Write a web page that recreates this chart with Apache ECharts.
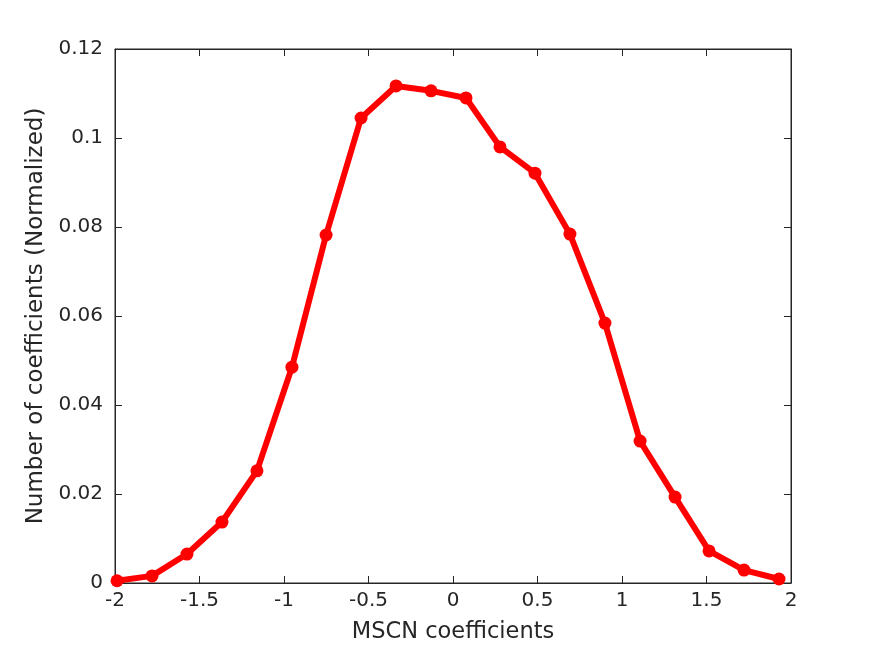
<!DOCTYPE html>
<html><head><meta charset="utf-8">
<script src="https://cdn.jsdelivr.net/npm/echarts@6/dist/echarts.min.js"></script>
<style>html,body{margin:0;padding:0;background:#fff}#c{width:875px;height:656px}</style>
</head><body><div id="c"></div>
<script>
const xValues = [-1.988, -1.781, -1.574, -1.367, -1.160, -0.953, -0.751, -0.544, -0.337, -0.130, 0.077, 0.278, 0.485, 0.692, 0.899, 1.107, 1.314, 1.515, 1.722, 1.929];
const yValues = [0.0005, 0.0016, 0.0065, 0.0137, 0.0252, 0.0485, 0.0782, 0.1045, 0.1117, 0.1106, 0.1090, 0.0980, 0.0921, 0.0784, 0.0584, 0.0319, 0.0193, 0.0072, 0.0029, 0.0009];
const xTitle = 'MSCN coefficients';
const yTitle = 'Number of coefficients (Normalized)';

const chart = echarts.init(document.getElementById('c'));
const font = 'DejaVu Sans';
const ax = '#262626';
const lineStyle = {color: ax, width: 1};
chart.setOption({
  animation: false,
  backgroundColor: '#fff',
  grid: {left: 115, right: 84, top: 49, bottom: 73, show: true, borderColor: ax, borderWidth: 1},
  xAxis: [{
    type: 'value', min: -2, max: 2, interval: 0.5,
    name: xTitle, nameLocation: 'middle', nameGap: 38,
    nameTextStyle: {fontFamily: font, fontSize: 22.5, color: ax},
    axisLine: {show: true, onZero: false, lineStyle},
    axisTick: {show: true, inside: true, length: 7, lineStyle},
    axisLabel: {fontFamily: font, fontSize: 20, color: ax, margin: 8, formatter: v => String(v)},
    splitLine: {show: false}
  }, {
    type: 'value', min: -2, max: 2, interval: 0.5, position: 'top',
    axisLine: {show: true, onZero: false, lineStyle},
    axisTick: {show: true, inside: true, length: 7, lineStyle},
    axisLabel: {show: false}, splitLine: {show: false}
  }],
  yAxis: [{
    type: 'value', min: 0, max: 0.12, interval: 0.02,
    name: yTitle, nameLocation: 'middle', nameGap: 65,
    nameTextStyle: {fontFamily: font, fontSize: 23, color: ax},
    axisLine: {show: true, onZero: false, lineStyle},
    axisTick: {show: true, inside: true, length: 7, lineStyle},
    axisLabel: {fontFamily: font, fontSize: 20, color: ax, margin: 12, formatter: v => String(+v.toFixed(2))},
    splitLine: {show: false}
  }, {
    type: 'value', min: 0, max: 0.12, interval: 0.02, position: 'right',
    axisLine: {show: true, onZero: false, lineStyle},
    axisTick: {show: true, inside: true, length: 7, lineStyle},
    axisLabel: {show: false}, splitLine: {show: false}
  }],
  series: [{
    type: 'line',
    data: xValues.map((x, i) => [x, yValues[i]]),
    lineStyle: {color: '#ff0000', width: 6},
    itemStyle: {color: '#ff0000'},
    symbol: 'circle', symbolSize: 13, showSymbol: true,
    clip: false
  }]
});
</script></body></html>
